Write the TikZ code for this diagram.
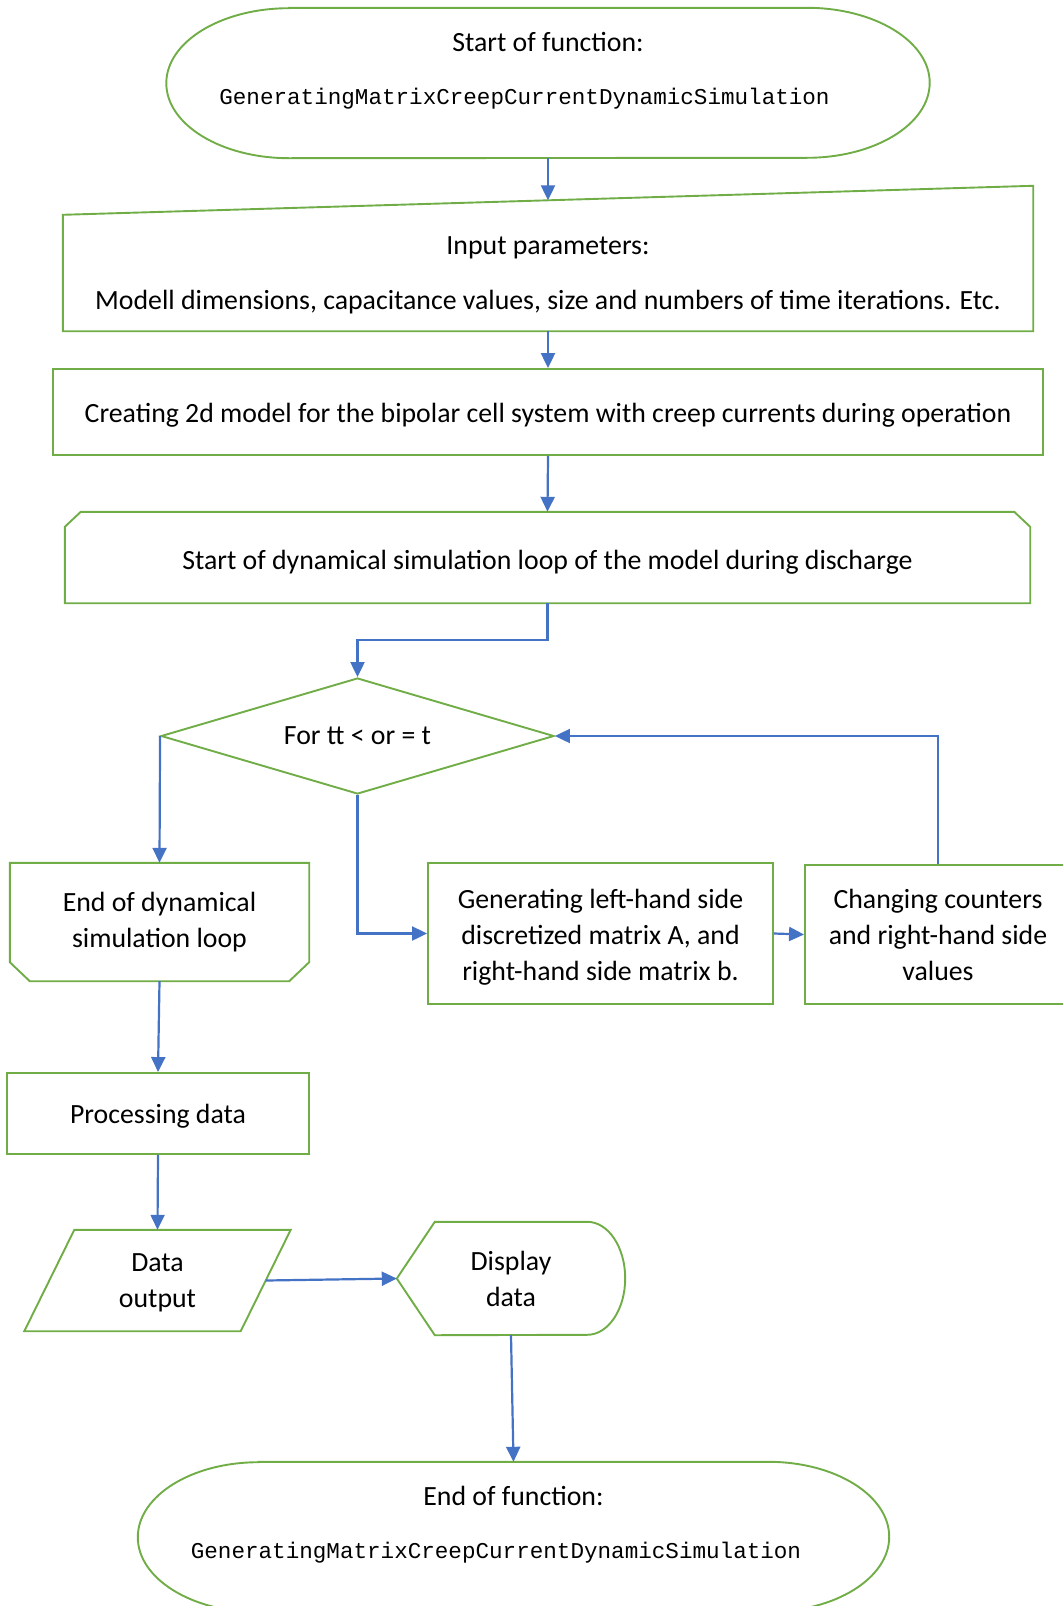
\documentclass[tikz,border=0pt]{standalone}
\usepackage{fontspec}
\setmainfont{Carlito}
\newfontfamily\codefont{Liberation Mono}
\usetikzlibrary{shapes.geometric, arrows.meta}

\definecolor{boxgreen}{HTML}{70AD47}
\definecolor{lineblue}{HTML}{4472C4}

% outline of a terminator: node, x radius, y radius
\newcommand\termoutline[3]{%
  \draw[shapeline] ([xshift=#2]#1.north west) -- ([xshift=-#2]#1.north east)
    arc[start angle=90, end angle=-90, x radius=#2, y radius=#3]
    -- ([xshift=#2]#1.south west)
    arc[start angle=270, end angle=90, x radius=#2, y radius=#3] -- cycle;}
\newcommand\funcname{{\codefont\fontsize{22.6}{26}\selectfont GeneratingMatrixCreepCurrentDynamicSimulation}}
\newcommand\drop[1]{\rule{0pt}{#1}}

\begin{document}
\begin{tikzpicture}[x=1pt, y=1pt,
    every node/.style={font=\fontsize{27.8}{36}\selectfont, align=center, inner sep=0pt},
    shapeline/.style={draw=boxgreen, line width=1.9pt},
    flow/.style={draw=lineblue, line width=2.2pt, -{Triangle[length=15pt, width=14pt]}}]
    \clip (0,0) rectangle (1063,-1606);

    % start of function
    \node[minimum width=763pt, minimum height=150pt] (start) at (548,-83) {};
    \node (starttext) at (548,-70.5) {Start of function:\\[17pt]\funcname\hspace*{47pt}};
    \termoutline{start}{122.8pt}{75pt}

    % input parameters (manual input)
    \node[minimum width=970pt, minimum height=116pt] (input) at (548,-273) {\drop{22.5pt}Input parameters:\\[19pt]Modell dimensions, capacitance values, size and numbers of time iterations. Etc.};
    \draw[shapeline] (input.south west) -- (input.north west) -- ([yshift=29pt]input.north east) -- (input.south east) -- cycle;
    \coordinate (inputtop) at ([yshift=14.5pt]input.north);

    \node[shapeline, minimum width=990pt, minimum height=86pt] (model) at (548,-412) {\drop{25.5pt}Creating 2d model for the bipolar cell system with creep currents during operation};

    % loop limits
    \node[minimum width=965pt, minimum height=91pt] (loop) at (547.5,-557.5) {\drop{29.5pt}Start of dynamical simulation loop of the model during discharge};
    \draw[shapeline] (loop.south west) -- ([yshift=-15pt]loop.north west) -- ([xshift=16pt]loop.north west)
      -- ([xshift=-16pt]loop.north east) -- ([yshift=-15pt]loop.north east) -- (loop.south east) -- cycle;

    \node[shapeline, diamond, aspect=3.39, minimum width=393pt, minimum height=116pt] (dec) at (357.5,-736) {For tt < or = t};

    \node[minimum width=299pt, minimum height=118pt] (loopend) at (159.5,-922) {End of dynamical\\simulation loop};
    \draw[shapeline] (loopend.north west) -- ([yshift=19pt]loopend.south west) -- ([xshift=20pt]loopend.south west)
      -- ([xshift=-20pt]loopend.south east) -- ([yshift=19pt]loopend.south east) -- (loopend.north east) -- cycle;

    \node[shapeline, minimum width=345pt, minimum height=141pt] (gen) at (600.5,-933.5) {\drop{27.5pt}Generating left-hand side\\discretized matrix A, and\\right-hand side matrix b.};
    \node[shapeline, minimum width=266pt, minimum height=139pt] (change) at (938,-934.5) {Changing counters\\and right-hand side\\values};

    \node[shapeline, minimum width=302pt, minimum height=81pt] (proc) at (158,-1113.5) {\drop{25.5pt}Processing data};

    % data output and display
    \node[minimum width=216pt, minimum height=101pt] (output) at (157.5,-1280.5) {\drop{23pt}Data\\output};
    \draw[shapeline] ([xshift=-25pt]output.south west) -- ([xshift=25pt]output.north west)
      -- ([xshift=25pt]output.north east) -- ([xshift=-25pt]output.south east) -- cycle;
    \node[minimum width=228pt, minimum height=113pt] (display) at (511,-1278.5) {Display\\data};
    \draw[shapeline] (display.west) -- ([xshift=38pt]display.north west) -- ([xshift=-38pt]display.north east)
      arc[start angle=90, end angle=-90, x radius=38pt, y radius=56.5pt] -- ([xshift=38pt]display.south west) -- cycle;

    % end of function
    \node[minimum width=751pt, minimum height=150pt] (endterm) at (513.5,-1537) {};
    \node (endtext) at (513.5,-1525) {End of function:\\[17pt]\funcname\hspace*{35pt}};
    \termoutline{endterm}{120.8pt}{75pt}

    % connectors
    \draw[flow] (start.south) -- (inputtop);
    \draw[flow] (input.south) -- (model.north);
    \draw[flow] (model.south) -- (loop.north);
    \draw[flow] (loop.south) -- ++(0,-37) -| (dec.north);
    \draw[flow] (dec.west) -- (loopend.north);
    \draw[flow] (dec.south) |- (gen.west);
    \draw[flow] (gen.east) -- (change.west);
    \draw[flow] (change.north) |- (dec.east);
    \draw[flow] (loopend.south) -- (proc.north);
    \draw[flow] (proc.south) -- (output.north);
    \draw[flow] (output.east) -- (display.west);
    \draw[flow] (display.south) -- (endterm.north);
\end{tikzpicture}
\end{document}
